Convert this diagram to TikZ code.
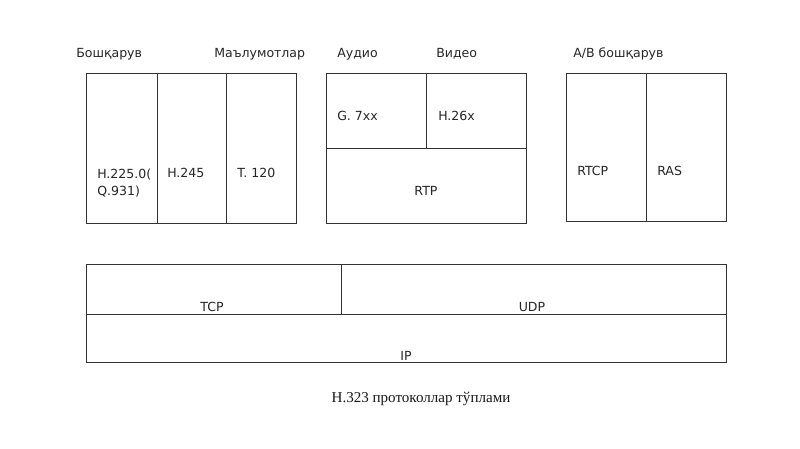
\documentclass[tikz,border=0pt]{standalone}
\usepackage{fontspec}
\setmainfont{Liberation Serif}
\newfontfamily\lblfont{DejaVu Sans}
\begin{document}
\begin{tikzpicture}[x=0.75pt,y=-0.75pt,
  cell/.style={draw=black!80,line width=0.7pt},
  lbl/.style={font=\lblfont\fontsize{9.4}{11}\selectfont,text=black!85,inner sep=0pt,anchor=base west},
  clbl/.style={font=\lblfont\fontsize{9.4}{11}\selectfont,text=black!85,inner sep=0pt,anchor=base},
  captionlbl/.style={font=\fontsize{11.3}{13}\selectfont,text=black!90,inner sep=0pt,anchor=base}]
\path[use as bounding box,fill=white] (0,0) rectangle (800,449);
% left group
\draw[cell] (86,73) rectangle (157,223);
\draw[cell] (157,73) rectangle (226,223);
\draw[cell] (226,73) rectangle (296,223);
% middle group
\draw[cell] (326,73) rectangle (426,148);
\draw[cell] (426,73) rectangle (526,148);
\draw[cell] (326,148) rectangle (526,223);
% right group
\draw[cell] (566,73) rectangle (646,221);
\draw[cell] (646,73) rectangle (726,221);
% bottom
\draw[cell] (86,264) rectangle (341,314);
\draw[cell] (341,264) rectangle (726,314);
\draw[cell] (86,314) rectangle (726,362);
% headings
\node[lbl] (h1) at (76,58) {Бошқарув};
\node[lbl] (h2) at (214,58) {Маълумотлар};
\node[lbl] (h3) at (337,58) {Аудио};
\node[lbl] (h4) at (436,58) {Видео};
\node[lbl] (h5) at (573,58) {А/В бошқарув};
% cell labels
\node[lbl] (c1) at (97,179) {H.225.0(};
\node[lbl] (c1b) at (97,196) {Q.931)};
\node[lbl] (c2) at (167,178) {H.245};
\node[lbl] (c3) at (237,178) {T. 120};
\node[lbl] (g7) at (337,121) {G. 7xx};
\node[lbl] (h26) at (438,121) {H.26x};
\node[clbl] (rtp) at (426,196) {RTP};
\node[lbl] (rtcp) at (577,176) {RTCP};
\node[lbl] (ras) at (657,176) {RAS};
\node[clbl] (tcp) at (212,311) {TCP};
\node[clbl] (udp) at (532,311) {UDP};
\node[clbl] (ip) at (406,360) {IP};
\node[captionlbl] (caption) at (421,402) {H.323 протоколлар тўплами};
\end{tikzpicture}
\end{document}
